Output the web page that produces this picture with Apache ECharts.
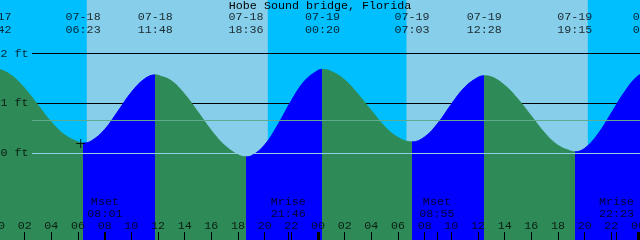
<!DOCTYPE html>
<html><head><meta charset="utf-8">
<script src="https://cdn.jsdelivr.net/npm/echarts@6/dist/echarts.min.js"></script>
<style>html,body{margin:0;padding:0;background:#87CEEB}#c{width:640px;height:240px}</style>
</head><body><div id="c"></div>
<script>
// ---------- data ----------
const stationName = 'Hobe Sound bridge, Florida';
const eventDates = ['07-17','07-18','07-18','07-18','07-19','07-19','07-19','07-19','07-20'];
const eventClock = ['23:42','06:23','11:48','18:36','00:20','07:03','12:28','19:15','00:55'];
const eventKind  = ['high','low','high','low','high','low','high','low','high'];
const eventFeet  = [1.70, 0.20, 1.57, -0.08, 1.68, 0.22, 1.55, 0.02, 1.65];

// tide curve samples (hours since 07-18 00:00, feet)
const tideHours = [-0.3,0,1,2,3,4,5,6,6.383,7,8,9,10,11,11.8,12,13,14,15,16,17,18,18.6,19,20,21,22,23,24,24.333,
  25,26,27,28,29,30,31.05,32,33,34,35,36,36.467,37,38,39,40,41,42,43,43.25,44,45,46,47,48,48.9];
const tideFeet = [1.70,1.69,1.56,1.30,0.96,0.62,0.36,0.22,0.20,0.24,0.47,0.84,1.22,1.49,1.57,1.56,1.45,1.18,0.82,0.45,0.15,-0.04,-0.08,-0.06,0.16,0.57,1.05,1.45,1.66,1.68,
  1.64,1.47,1.18,0.85,0.53,0.31,0.22,0.32,0.60,0.98,1.32,1.52,1.55,1.53,1.36,1.08,0.74,0.40,0.15,0.03,0.02,0.09,0.38,0.80,1.23,1.55,1.65];

const sunriseDates = ['07-18','07-19'];
const sunriseClock = ['06:40','06:39'];
const sunsetDates  = ['07-18','07-19'];
const sunsetClock  = ['20:14','20:14'];

const moonNames = ['Mset','Mrise','Mset','Mrise'];
const moonDates = ['07-18','07-18','07-19','07-19'];
const moonClock = ['08:01','21:46','08:55','22:23'];

const hourTicks = [0,2,4,6,8,10,12,14,16,18,20,22,24,26,28,30,32,34,36,38,40,42,44,46,48];
const dayBreaks = [24,48];
const feetLevels = [0,1,2];
const meanLevel = 0.65;
const nowMark = [6.2, 0.19];

// ---------- layout / style ----------
const W = 640, H = 240;
const xMin = 0.15, xMax = 48.15;
const yMin = -1.756, yMax = 3.078;
const FONT = 'Liberation Mono';
const FS = 11.7;
const C = { day:'#87CEEB', night:'#00BFFF', flood:'#0000FF', ebb:'#2E8B57', mean:'#5fab8e', datum:'#8fd0e6' };

const toHours = (d, c) => (parseInt(d.slice(3), 10) - 18) * 24 + parseInt(c.slice(0,2),10) + parseInt(c.slice(3),10)/60;
const pxToHours = px => xMin + px / W * (xMax - xMin);
const pxToFeet = py => yMax - py / H * (yMax - yMin);
const pad = v => (v < 10 ? '0' : '') + v;

const evT = eventDates.map((d,i) => toHours(d, eventClock[i]));
const tideData = tideHours.map((t,i) => [t, tideFeet[i]]);

// rising (flood) / falling (ebb) pieces
const pieces = [];
pieces.push({ lt: evT[0], color: eventKind[0] === 'high' ? C.flood : C.ebb });
for (let i = 0; i < evT.length; i++) {
  const next = i + 1 < evT.length ? evT[i+1] : 100;
  pieces.push({ gte: evT[i], lt: next, color: eventKind[i] === 'low' ? C.flood : C.ebb });
}

// day / night bands
const rises = sunriseDates.map((d,i) => toHours(d, sunriseClock[i]));
const sets = sunsetDates.map((d,i) => toHours(d, sunsetClock[i]));
const bands = [];
let cur = xMin - 2;
rises.forEach((r,i) => {
  bands.push([{ xAxis: cur, itemStyle:{ color:C.night, opacity:1 } }, { xAxis: r }]);
  bands.push([{ xAxis: r, itemStyle:{ color:C.day, opacity:1 } }, { xAxis: sets[i] }]);
  cur = sets[i];
});
bands.push([{ xAxis: cur, itemStyle:{ color:C.night, opacity:1 } }, { xAxis: xMax + 2 }]);

const lineStart = pxToHours(32);
const tickTop = pxToFeet(232);
const moonT = moonDates.map((d,i) => toHours(d, moonClock[i]));

const txt = { fontFamily: FONT, fontSize: FS, color: '#000' };
const hidden = { symbolSize: 1, itemStyle: { color: 'rgba(0,0,0,0)' }, silent: true, clip: false };

const option = {
  animation: false,
  title: { text: stationName, left: 'center', top: 0, padding: 0,
    textStyle: { fontFamily: FONT, fontSize: FS, fontWeight: 'normal', color: '#000' } },
  grid: { left: 0, right: 0, top: 0, bottom: 0, containLabel: false, outerBoundsMode: 'none' },
  xAxis: { type: 'value', min: xMin, max: xMax, show: false },
  yAxis: { type: 'value', min: yMin, max: yMax, show: false },
  visualMap: { type: 'piecewise', show: false, dimension: 0, seriesIndex: 2, pieces: pieces },
  series: [
    { type: 'line', z: 0, data: tideData, silent: true, showSymbol: false, lineStyle: { opacity: 0 },
      markArea: { silent: true, z: 0, data: bands } },
    { type: 'line', z: 1, data: [], silent: true,
      markLine: { silent: true, z: 1, symbol: ['none','none'], label: { show: false },
        lineStyle: { color: '#000', width: 1, type: 'solid' },
        data: feetLevels.filter(v => v !== 0).map(v => [{ coord: [lineStart, v] }, { coord: [xMax, v] }]) } },
    { type: 'line', z: 2, data: tideData, smooth: 0.4, showSymbol: false, silent: true,
      lineStyle: { width: 1 }, areaStyle: { origin: 'start', opacity: 1 } },
    { type: 'line', z: 3, data: [], silent: true,
      markLine: { silent: true, z: 6, symbol: ['none','none'], label: { show: false },
        lineStyle: { type: 'solid', width: 1, color: '#000' },
        data: [
          [{ coord: [lineStart, meanLevel], lineStyle: { color: C.mean } }, { coord: [xMax, meanLevel] }],
          [{ coord: [lineStart, 0], lineStyle: { color: C.datum } }, { coord: [xMax, 0] }],
          ...hourTicks.map(t => [{ coord: [t, tickTop] }, { coord: [t, yMin] }]),
          ...dayBreaks.map(t => [{ coord: [t, tickTop], lineStyle: { width: 3 } }, { coord: [t, yMin] }]),
          ...moonT.map(t => [{ coord: [t, tickTop] }, { coord: [t, yMin] }])
        ] } },
    Object.assign({ type: 'scatter', z: 7,
      data: evT.map((t,i) => ({ value: [t, pxToFeet(23.7)], d: eventDates[i], c: eventClock[i] })),
      label: Object.assign({ show: true, position: 'inside', lineHeight: 13.3,
        formatter: p => p.data.d + '\n' + p.data.c }, txt) }, hidden),
    Object.assign({ type: 'scatter', z: 7,
      data: moonT.map((t,i) => ({ value: [t, pxToFeet(208)], n: moonNames[i], c: moonClock[i] })),
      label: Object.assign({ show: true, position: 'inside', lineHeight: 11.5,
        formatter: p => p.data.n + '\n' + p.data.c }, txt) }, hidden),
    Object.assign({ type: 'scatter', z: 7,
      data: hourTicks.map(t => ({ value: [t, pxToFeet(225.5)], h: pad(t % 24) })),
      label: Object.assign({ show: true, position: 'inside', formatter: p => p.data.h }, txt) }, hidden),
    Object.assign({ type: 'scatter', z: 7,
      data: feetLevels.map(v => ({ value: [lineStart, v], f: v + ' ft' })),
      label: Object.assign({ show: true, position: 'left', distance: 3, formatter: p => p.data.f }, txt) }, hidden),
    { type: 'scatter', z: 8, silent: true, symbol: 'path://M0,4H9V5H0Z M4,0H5V9H4Z', symbolSize: [9,9],
      itemStyle: { color: '#000' }, data: [nowMark] }
  ]
};
const chart = echarts.init(document.getElementById('c'), null, { renderer: 'canvas' });
chart.setOption(option);
</script></body></html>
